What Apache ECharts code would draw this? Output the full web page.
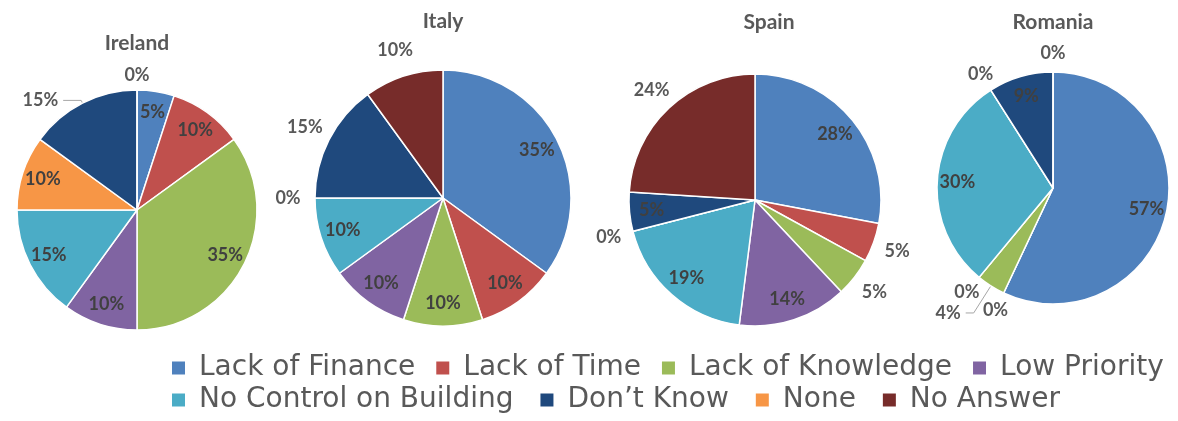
<!DOCTYPE html>
<html>
<head>
<meta charset="utf-8">
<script src="https://cdn.jsdelivr.net/npm/echarts@6/dist/echarts.min.js"></script>
<style>
html,body{margin:0;padding:0;background:#ffffff;}
#chart{width:1178px;height:421px;}
</style>
</head>
<body>
<div id="chart"></div>
<script>
// ---- data ----
const categories = ['Lack of Finance', 'Lack of Time', 'Lack of Knowledge', 'Low Priority',
  'No Control on Building', 'None', 'Don\u2019t Know', 'No Answer'];
const legendRow1 = ['Lack of Finance', 'Lack of Time', 'Lack of Knowledge', 'Low Priority'];
const legendRow2 = ['No Control on Building', 'Don\u2019t Know', 'None', 'No Answer'];
const countries = ['Ireland', 'Italy', 'Spain', 'Romania'];
const irelandValues = [5, 10, 35, 10, 15, 10, 15, 0];
const italyValues   = [35, 10, 10, 10, 10, 0, 15, 10];
const spainValues   = [28, 5, 5, 14, 19, 0, 5, 24];
const romaniaValues = [57, 0, 4, 0, 30, 0, 9, 0];

// ---- styles / layout ----
const colors = ['#4F81BD', '#C0504D', '#9BBB59', '#8064A2', '#4BACC6', '#F79646', '#1F497D', '#772C2A'];
const irelandPlace = ['in', 'in', 'in', 'in', 'in', 'in', 'line', 'out'];
const italyPlace   = ['in', 'in', 'in', 'in', 'in', 'out', 'out', 'out'];
const spainPlace   = ['in', 'out', 'out', 'in', 'in', 'out', 'in', 'out'];
const romaniaPlace = ['in', 'out', 'line', 'out', 'in', 'out', 'in', 'out'];
const layouts = [
  { center: [137, 210], r: 120, gap: 12, title: [137, 43], line: { length: 3, length2: 18 } },
  { center: [443, 198], r: 128, gap: 24, title: [443, 21], line: { length: 10, length2: 10 } },
  { center: [755, 200], r: 126, gap: 22, title: [769, 22], line: { length: 10, length2: 10 } },
  { center: [1053, 188], r: 116, gap: 16, title: [1053, 22], line: { length: 32, length2: 8 } }
];
const labelFont = { fontFamily: 'Lato', fontWeight: 'bold', fontSize: 18 };

function buildSeries(name, values, place, lay) {
  const base = categories.map((c, i) => ({ name: c, value: values[i] }));
  const common = {
    type: 'pie', center: lay.center, startAngle: 90, clockwise: true,
    avoidLabelOverlap: false, animation: false, emphasis: { disabled: true },
    labelLayout: { hideOverlap: false }
  };
  const main = Object.assign({}, common, {
    name: name, radius: [0, lay.r],
    itemStyle: { borderColor: '#ffffff', borderWidth: 1.5 },
    label: Object.assign({ show: false, formatter: '{c}%', color: '#595959' }, labelFont),
    labelLine: { show: false },
    data: base.map((d, i) => Object.assign({}, d, place[i] === 'line' ? {
      label: { show: true, position: 'outside' },
      labelLine: { show: true, length: lay.line.length, length2: lay.line.length2,
        lineStyle: { color: '#A6A6A6', width: 1 } }
    } : {}))
  });
  const inner = Object.assign({}, common, {
    name: name + ' labels', radius: [lay.r * 0.6, lay.r], silent: true,
    itemStyle: { color: 'rgba(0,0,0,0)', borderWidth: 0 },
    label: Object.assign({ show: true, position: 'inside', formatter: '{c}%', color: '#404040' }, labelFont),
    labelLine: { show: false },
    data: base.map((d, i) => Object.assign({}, d, { label: { show: place[i] === 'in' } }))
  });
  const outer = Object.assign({}, common, {
    name: name + ' outer labels', radius: [lay.r, lay.r + 2 * lay.gap], silent: true,
    itemStyle: { color: 'rgba(0,0,0,0)', borderWidth: 0 },
    label: Object.assign({ show: true, position: 'inside', formatter: '{c}%', color: '#595959' }, labelFont),
    labelLine: { show: false },
    data: base.map((d, i) => Object.assign({}, d, { label: { show: place[i] === 'out' } }))
  });
  return [main, inner, outer];
}

const allValues = [irelandValues, italyValues, spainValues, romaniaValues];
const allPlaces = [irelandPlace, italyPlace, spainPlace, romaniaPlace];
let series = [];
countries.forEach((c, i) => { series = series.concat(buildSeries(c, allValues[i], allPlaces[i], layouts[i])); });

const legendCommon = {
  orient: 'horizontal', icon: 'rect', itemWidth: 13, itemHeight: 13, padding: 0,
  selectedMode: false, itemStyle: { borderWidth: 0 },
  textStyle: { fontFamily: 'DejaVu Sans', fontSize: 28, color: '#595959', padding: [0, 0, 0, 9] }
};

const chart = echarts.init(document.getElementById('chart'), null, { renderer: 'canvas' });
chart.setOption({
  backgroundColor: '#ffffff',
  color: colors,
  animation: false,
  legend: [
    Object.assign({}, legendCommon, { data: legendRow1, left: 172, top: 354, itemGap: 21 }),
    Object.assign({}, legendCommon, { data: legendRow2, left: 172, top: 386, itemGap: 27 })
  ],
  graphic: layouts.map((l, i) => ({
    type: 'text', x: l.title[0], y: l.title[1], silent: true,
    style: { text: countries[i], align: 'center', verticalAlign: 'middle',
      fontFamily: 'Lato', fontWeight: 'bold', fontSize: 21, fill: '#595959' }
  })),
  series: series
});
</script>
</body>
</html>
